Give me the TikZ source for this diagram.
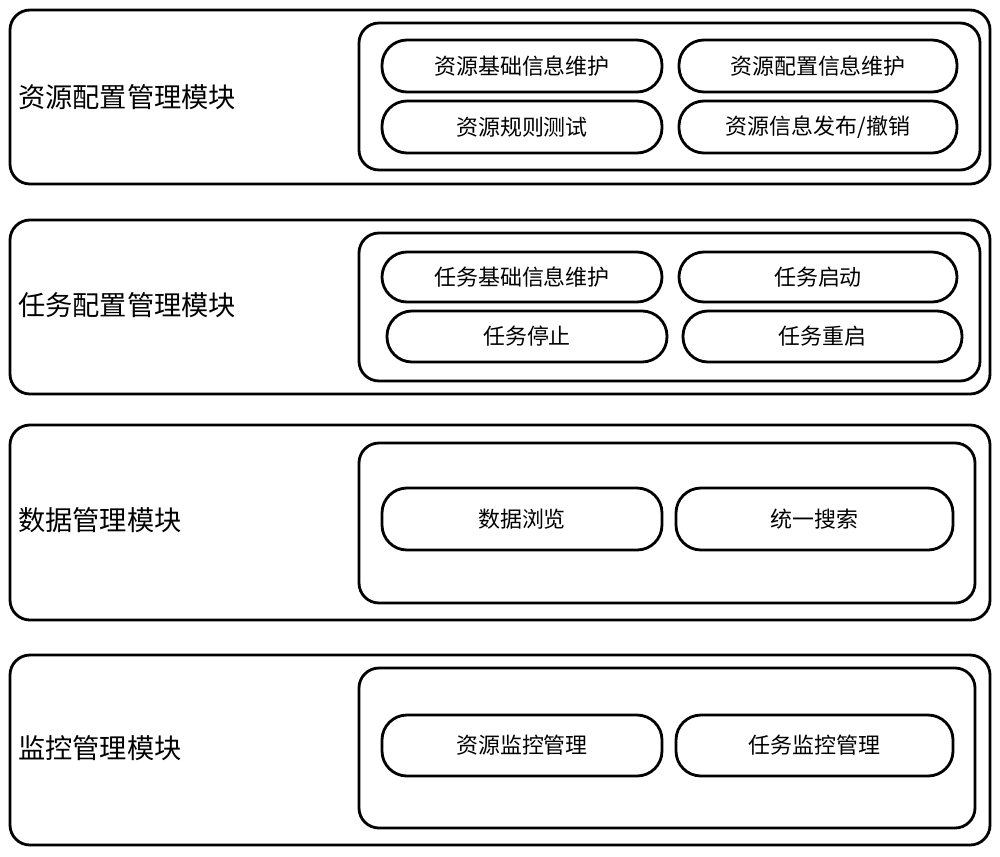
\documentclass[tikz,border=0pt]{standalone}
\usepackage{fontspec}
\newfontfamily\cjk{Noto Sans CJK SC}
\begin{document}
\begin{tikzpicture}[x=0.02cm,y=-0.02cm,
  box/.style={draw,line width=1.6pt,rounded corners=0.4cm},
  pill/.style={draw,line width=1.6pt,rounded corners=0.5cm,font=\cjk\fontsize{12.5}{14}\selectfont},
  lab/.style={anchor=west,font=\cjk\fontsize{15.5}{18}\selectfont}]
\useasboundingbox (0,0) rectangle (1000,856);
\newcommand\pl[6]{\draw[pill] (#1,#2) rectangle (#3,#4) node[midway] (#5) {#6};}
% box 1
\draw[box] (10,10) rectangle (990,184);
\draw[box] (359,23) rectangle (980,170);
\node[lab] (l1) at (12,97) {资源配置管理模块};
\pl{382}{40}{662}{92}{a1}{资源基础信息维护}
\pl{679}{40}{957}{92}{a2}{资源配置信息维护}
\pl{382}{101}{662}{153}{a3}{资源规则测试}
\pl{679}{101}{957}{153}{a4}{资源信息发布/撤销}
% box 2
\draw[box] (10,220) rectangle (990,394);
\draw[box] (359,233) rectangle (980,381);
\node[lab] (l2) at (12,305) {任务配置管理模块};
\pl{382}{252}{662}{302}{b1}{任务基础信息维护}
\pl{679}{252}{957}{302}{b2}{任务启动}
\pl{387}{311}{667}{362}{b3}{任务停止}
\pl{683}{311}{962}{362}{b4}{任务重启}
% box 3
\draw[box] (10,425) rectangle (990,620);
\draw[box] (359,443) rectangle (975,603);
\node[lab] (l3) at (12,520) {数据管理模块};
\pl{382}{488}{662}{550}{c1}{数据浏览}
\pl{676}{488}{953}{550}{c2}{统一搜索}
% box 4
\draw[box] (10,655) rectangle (990,845);
\draw[box] (359,668) rectangle (975,828);
\node[lab] (l4) at (12,748) {监控管理模块};
\pl{382}{715}{662}{776}{d1}{资源监控管理}
\pl{676}{715}{953}{776}{d2}{任务监控管理}
\end{tikzpicture}
\end{document}
